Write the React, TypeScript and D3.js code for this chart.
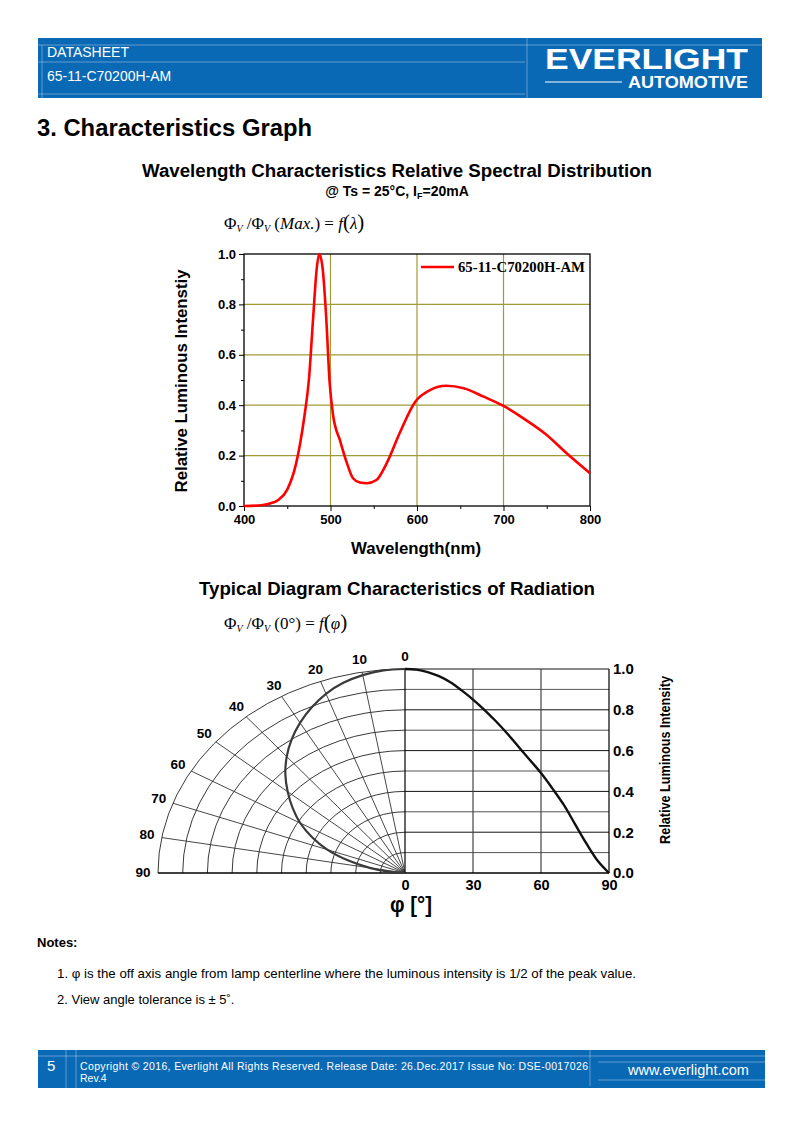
import React, { useEffect, useRef } from 'react';
import * as d3 from 'd3';

// spectral distribution
const wavelengths = [400, 420, 430, 440, 450, 460, 465, 470, 475, 480, 484, 487, 491, 495, 499, 503, 511, 519, 526, 534, 542, 553, 565, 580, 598, 615, 634, 654, 677, 700, 723, 750, 773, 800];
const spectrum = [0.0, 0.003, 0.01, 0.025, 0.065, 0.165, 0.25, 0.36, 0.5, 0.75, 0.94, 1.0, 0.94, 0.75, 0.49, 0.36, 0.26, 0.17, 0.11, 0.093, 0.09, 0.103, 0.17, 0.29, 0.414, 0.46, 0.477, 0.467, 0.434, 0.397, 0.348, 0.282, 0.209, 0.13];
const xTicks = [400, 500, 600, 700, 800];
const yTicks = [0, 0.2, 0.4, 0.6, 0.8, 1.0];

// radiation pattern
const angles = [0, 5, 10, 15, 20, 25, 30, 35, 40, 45, 50, 55, 60, 65, 70, 75, 80, 85, 90];
const intensity = [1.0, 0.997, 0.985, 0.965, 0.935, 0.895, 0.85, 0.8, 0.745, 0.685, 0.62, 0.555, 0.49, 0.415, 0.335, 0.24, 0.145, 0.06, 0.0];
const angleTicks = [0, 30, 60, 90];
const intensityTicks = [0, 0.2, 0.4, 0.6, 0.8, 1.0];
const polarLabels = [0, 10, 20, 30, 40, 50, 60, 70, 80, 90];

const SANS = 'Liberation Sans, Arial, sans-serif';
const SERIF = 'Liberation Serif, Times New Roman, serif';
const BLUE = '#0a69b5';
const GRID = '#a19b35';

const App: React.FC = () => {
  const svgRef = useRef<SVGSVGElement>(null);

  useEffect(() => {
    if (!svgRef.current) return;
    const svg = d3.select(svgRef.current);
    svg.selectAll('*').remove();

    // ---------- header ----------
    const hdr = svg.append('g');
    hdr.append('rect').attr('x', 38).attr('y', 38).attr('width', 724).attr('height', 60).attr('fill', BLUE);
    const hl = 'rgba(255,255,255,0.35)';
    hdr.append('line').attr('x1', 38).attr('x2', 762).attr('y1', 45).attr('y2', 45).attr('stroke', hl);
    hdr.append('line').attr('x1', 38).attr('x2', 525).attr('y1', 62).attr('y2', 62).attr('stroke', hl);
    hdr.append('line').attr('x1', 38).attr('x2', 525).attr('y1', 94).attr('y2', 94).attr('stroke', hl);
    hdr.append('line').attr('x1', 527).attr('x2', 527).attr('y1', 38).attr('y2', 98).attr('stroke', hl);
    hdr.append('line').attr('x1', 42).attr('x2', 42).attr('y1', 45).attr('y2', 98).attr('stroke', hl);
    hdr.append('text').attr('x', 47).attr('y', 57).attr('fill', '#fff').attr('font-family', SANS).attr('font-size', 14).text('DATASHEET');
    hdr.append('text').attr('x', 47).attr('y', 81).attr('fill', '#fff').attr('font-family', SANS).attr('font-size', 14).text('65-11-C70200H-AM');
    hdr.append('text').attr('x', 545).attr('y', 69).attr('fill', '#fff').attr('font-family', SANS).attr('font-weight', 900)
      .attr('font-size', 29).attr('textLength', 203).attr('lengthAdjust', 'spacingAndGlyphs').text('EVERLIGHT');
    hdr.append('line').attr('x1', 545).attr('x2', 622).attr('y1', 82).attr('y2', 82).attr('stroke', '#fff').attr('stroke-width', 1);
    hdr.append('text').attr('x', 628).attr('y', 88).attr('fill', '#fff').attr('font-family', SANS).attr('font-weight', 'bold')
      .attr('font-size', 17).attr('textLength', 120).attr('lengthAdjust', 'spacingAndGlyphs').text('AUTOMOTIVE');

    // ---------- titles ----------
    svg.append('text').attr('x', 37).attr('y', 136).attr('font-family', SANS).attr('font-weight', 'bold').attr('font-size', 23.5)
      .attr('textLength', 275).attr('lengthAdjust', 'spacingAndGlyphs').text('3. Characteristics Graph');
    svg.append('text').attr('x', 397).attr('y', 177).attr('text-anchor', 'middle').attr('font-family', SANS).attr('font-weight', 'bold').attr('font-size', 18)
      .attr('textLength', 510).attr('lengthAdjust', 'spacingAndGlyphs')
      .text('Wavelength Characteristics Relative Spectral Distribution');
    const sub = svg.append('text').attr('x', 397).attr('y', 196).attr('text-anchor', 'middle').attr('font-family', SANS).attr('font-weight', 'bold').attr('font-size', 14);
    sub.append('tspan').text('@ Ts = 25°C, I');
    sub.append('tspan').attr('font-size', 9).attr('dy', 3).text('F');
    sub.append('tspan').attr('dy', -3).text('=20mA');

    const formula = (y: number, arg: string, fn: string) => {
      const t = svg.append('text').attr('x', 224).attr('y', y).attr('font-family', SERIF).attr('font-size', 17);
      t.append('tspan').text('Φ');
      t.append('tspan').attr('font-size', 10).attr('font-style', 'italic').attr('dy', 3).text('V');
      t.append('tspan').attr('dy', -3).text(' /Φ');
      t.append('tspan').attr('font-size', 10).attr('font-style', 'italic').attr('dy', 3).text('V');
      t.append('tspan').attr('dy', -3).text(' (');
      t.append('tspan').attr('font-style', arg === 'Max.' ? 'italic' : 'normal').text(arg);
      t.append('tspan').text(') = ');
      t.append('tspan').attr('font-style', 'italic').text('f');
      t.append('tspan').attr('font-size', 21).text('(');
      t.append('tspan').attr('font-style', 'italic').text(fn);
      t.append('tspan').attr('font-size', 21).text(')');
    };
    formula(229, 'Max.', 'λ');

    // ---------- spectral chart ----------
    const x = d3.scaleLinear().domain([400, 800]).range([244, 590]);
    const y = d3.scaleLinear().domain([0, 1]).range([506, 254]);
    const sp = svg.append('g');

    [500, 600, 700].forEach(v => sp.append('line').attr('x1', x(v)).attr('x2', x(v)).attr('y1', y(0)).attr('y2', y(1)).attr('stroke', GRID).attr('stroke-width', 1.2));
    [0.2, 0.4, 0.6, 0.8].forEach(v => sp.append('line').attr('x1', x(400)).attr('x2', x(800)).attr('y1', y(v)).attr('y2', y(v)).attr('stroke', GRID).attr('stroke-width', 1.2));
    sp.append('rect').attr('x', x(400)).attr('y', y(1)).attr('width', x(800) - x(400)).attr('height', y(0) - y(1))
      .attr('fill', 'none').attr('stroke', '#000').attr('stroke-width', 1.3);

    const xAxis = d3.axisBottom(x).tickValues(xTicks).tickSize(5).tickFormat(d3.format('d'));
    const gx = sp.append('g').attr('transform', `translate(0,${y(0)})`).call(xAxis);
    gx.select('.domain').remove();
    gx.selectAll('text').attr('font-family', SANS).attr('font-weight', 'bold').attr('font-size', 13).attr('fill', '#000').attr('dy', '0.8em');
    const xMinor = d3.axisBottom(x).tickValues([450, 550, 650, 750]).tickSize(3).tickFormat(() => '');
    sp.append('g').attr('transform', `translate(0,${y(0)})`).call(xMinor).select('.domain').remove();

    const yAxis = d3.axisLeft(y).tickValues(yTicks).tickSize(5).tickFormat(d3.format('.1f'));
    const gy = sp.append('g').attr('transform', `translate(${x(400)},0)`).call(yAxis);
    gy.select('.domain').remove();
    gy.selectAll('text').attr('font-family', SANS).attr('font-weight', 'bold').attr('font-size', 13).attr('fill', '#000');
    const yMinor = d3.axisLeft(y).tickValues([0.1, 0.3, 0.5, 0.7, 0.9]).tickSize(3).tickFormat(() => '');
    sp.append('g').attr('transform', `translate(${x(400)},0)`).call(yMinor).select('.domain').remove();

    const line = d3.line<number>().x((_, i) => x(wavelengths[i])).y(d => y(d)).curve(d3.curveMonotoneX);
    sp.append('path').datum(spectrum).attr('d', line).attr('fill', 'none').attr('stroke', '#ff0000').attr('stroke-width', 2.6);

    sp.append('line').attr('x1', 421).attr('x2', 454).attr('y1', 267).attr('y2', 267).attr('stroke', '#ff0000').attr('stroke-width', 2.6);
    sp.append('text').attr('x', 458).attr('y', 272).attr('font-family', SERIF).attr('font-weight', 'bold').attr('font-size', 14)
      .attr('textLength', 127).attr('lengthAdjust', 'spacingAndGlyphs').text('65-11-C70200H-AM');

    sp.append('text').attr('transform', `translate(187,381) rotate(-90)`).attr('text-anchor', 'middle').attr('font-family', SANS)
      .attr('font-weight', 'bold').attr('font-size', 16).attr('textLength', 223).attr('lengthAdjust', 'spacingAndGlyphs').text('Relative Luminous Intenstiy');
    sp.append('text').attr('x', 416).attr('y', 554).attr('text-anchor', 'middle').attr('font-family', SANS)
      .attr('font-weight', 'bold').attr('font-size', 16).attr('textLength', 130).attr('lengthAdjust', 'spacingAndGlyphs').text('Wavelength(nm)');

    // ---------- radiation diagram ----------
    svg.append('text').attr('x', 397).attr('y', 595).attr('text-anchor', 'middle').attr('font-family', SANS).attr('font-weight', 'bold').attr('font-size', 18.5)
      .attr('textLength', 396).attr('lengthAdjust', 'spacingAndGlyphs')
      .text('Typical Diagram Characteristics of Radiation');
    formula(629, '0°', 'φ');

    const cx = 405, cy = 873;
    const rx = d3.scaleLinear().domain([0, 1]).range([0, 247]);
    const ry = d3.scaleLinear().domain([0, 1]).range([0, 204]);
    const rad = (deg: number) => (deg * Math.PI) / 180;
    const pg = svg.append('g');

    // rings
    d3.range(1, 11).map(i => i / 10).forEach(r => {
      pg.append('path')
        .attr('d', `M${cx - rx(r)},${cy} A${rx(r)},${ry(r)} 0 0 1 ${cx},${cy - ry(r)}`)
        .attr('fill', 'none').attr('stroke', '#222').attr('stroke-width', 0.9);
    });
    // spokes
    polarLabels.slice(1, 9).forEach(a => {
      pg.append('line').attr('x1', cx).attr('y1', cy)
        .attr('x2', cx - rx(1) * Math.sin(rad(a))).attr('y2', cy - ry(1) * Math.cos(rad(a)))
        .attr('stroke', '#333').attr('stroke-width', 0.9);
    });
    polarLabels.forEach(a => {
      pg.append('text').attr('x', cx - 262 * Math.sin(rad(a))).attr('y', cy - 216 * Math.cos(rad(a)))
        .attr('text-anchor', 'middle').attr('dominant-baseline', 'middle')
        .attr('font-family', SANS).attr('font-weight', 'bold').attr('font-size', 13.5).text(String(a));
    });

    // right cartesian panel
    const ax = d3.scaleLinear().domain([0, 90]).range([405, 609]);
    const iy = d3.scaleLinear().domain([0, 1]).range([873, 669]);
    d3.range(1, 11).map(i => i / 10).forEach((v, i) => {
      pg.append('line').attr('x1', ax(0)).attr('x2', ax(90)).attr('y1', iy(v)).attr('y2', iy(v))
        .attr('stroke', i % 2 === 0 ? '#555' : '#111').attr('stroke-width', 1);
    });
    angleTicks.slice(1).forEach(a => {
      pg.append('line').attr('x1', ax(a)).attr('x2', ax(a)).attr('y1', iy(0)).attr('y2', iy(1))
        .attr('stroke', a === 90 ? '#000' : '#444').attr('stroke-width', 1.2);
    });
    // axes lines
    pg.append('line').attr('x1', 158).attr('x2', ax(90)).attr('y1', cy).attr('y2', cy).attr('stroke', '#000').attr('stroke-width', 1.5);
    pg.append('line').attr('x1', cx).attr('x2', cx).attr('y1', cy).attr('y2', iy(1)).attr('stroke', '#000').attr('stroke-width', 1.2);

    const gA = pg.append('g').attr('transform', `translate(0,${cy})`).call(d3.axisBottom(ax).tickValues(angleTicks).tickSize(0).tickPadding(7));
    gA.select('.domain').remove();
    gA.selectAll('text').attr('font-family', SANS).attr('font-weight', 'bold').attr('font-size', 14.5).attr('fill', '#000');
    const gI = pg.append('g').attr('transform', `translate(${ax(90)},0)`).call(d3.axisRight(iy).tickValues(intensityTicks).tickSize(0).tickPadding(4).tickFormat(d3.format('.1f')));
    gI.select('.domain').remove();
    gI.selectAll('text').attr('font-family', SANS).attr('font-weight', 'bold').attr('font-size', 15).attr('fill', '#000');

    pg.append('text').attr('transform', `translate(666,760) rotate(-90)`).attr('text-anchor', 'middle').attr('dominant-baseline', 'middle')
      .attr('font-family', SANS).attr('font-size', 14).attr('font-weight', 'bold').attr('textLength', 168).attr('lengthAdjust', 'spacingAndGlyphs').attr('fill', '#000')
      .text('Relative Luminous Intensity');

    pg.append('text').attr('x', 411).attr('y', 912).attr('text-anchor', 'middle').attr('font-family', SANS).attr('font-weight', 'bold').attr('font-size', 22)
      .attr('textLength', 42).attr('lengthAdjust', 'spacingAndGlyphs').text('φ [°]');

    // curves
    const polarLine = d3.line<number>()
      .x((d, i) => cx - rx(d) * Math.sin(rad(angles[i])))
      .y((d, i) => cy - ry(d) * Math.cos(rad(angles[i])))
      .curve(d3.curveCatmullRom);
    pg.append('path').datum(intensity).attr('d', polarLine).attr('fill', 'none').attr('stroke', '#3a3a3a').attr('stroke-width', 2.2);

    const cartLine = d3.line<number>().x((_, i) => ax(angles[i])).y(d => iy(d)).curve(d3.curveCatmullRom);
    pg.append('path').datum(intensity).attr('d', cartLine).attr('fill', 'none').attr('stroke', '#111').attr('stroke-width', 2.4);

    // ---------- notes ----------
    svg.append('text').attr('x', 37).attr('y', 947).attr('font-family', SANS).attr('font-weight', 'bold').attr('font-size', 13).text('Notes:');
    svg.append('text').attr('x', 57).attr('y', 978).attr('font-family', SANS).attr('font-size', 13)
      .attr('textLength', 579).attr('lengthAdjust', 'spacingAndGlyphs')
      .text('1. φ is the off axis angle from lamp centerline where the luminous intensity is 1/2 of the peak value.');
    svg.append('text').attr('x', 57).attr('y', 1004).attr('font-family', SANS).attr('font-size', 13)
      .text('2. View angle tolerance is ± 5˚.');

    // ---------- footer ----------
    const ft = svg.append('g');
    ft.append('rect').attr('x', 38).attr('y', 1050).attr('width', 727).attr('height', 38).attr('fill', BLUE);
    ft.append('line').attr('x1', 38).attr('x2', 765).attr('y1', 1056).attr('y2', 1056).attr('stroke', hl);
    ft.append('line').attr('x1', 66).attr('x2', 66).attr('y1', 1050).attr('y2', 1088).attr('stroke', hl);
    ft.append('line').attr('x1', 76).attr('x2', 76).attr('y1', 1050).attr('y2', 1088).attr('stroke', hl);
    ft.append('line').attr('x1', 590).attr('x2', 590).attr('y1', 1050).attr('y2', 1086).attr('stroke', hl);
    ft.append('line').attr('x1', 598).attr('x2', 765).attr('y1', 1062).attr('y2', 1062).attr('stroke', hl);
    ft.append('line').attr('x1', 598).attr('x2', 765).attr('y1', 1080).attr('y2', 1080).attr('stroke', hl);
    ft.append('text').attr('x', 47).attr('y', 1071).attr('fill', '#fff').attr('font-family', SANS).attr('font-size', 15).text('5');
    ft.append('text').attr('x', 80).attr('y', 1070).attr('fill', '#fff').attr('font-family', SANS).attr('font-size', 10.5)
      .attr('textLength', 508).attr('lengthAdjust', 'spacing')
      .text('Copyright © 2016, Everlight All Rights Reserved. Release Date: 26.Dec.2017 Issue No: DSE-0017026');
    ft.append('text').attr('x', 80).attr('y', 1082).attr('fill', '#fff').attr('font-family', SANS).attr('font-size', 10.5).text('Rev.4');
    ft.append('text').attr('x', 628).attr('y', 1075).attr('fill', '#fff').attr('font-family', SANS).attr('font-size', 14.5).text('www.everlight.com');
  }, []);

  return (
    <svg ref={svgRef} width={794} height={1123} viewBox="0 0 794 1123"
      style={{ position: 'absolute', left: 0, top: 0, background: '#fff' }} />
  );
};

export default App;
